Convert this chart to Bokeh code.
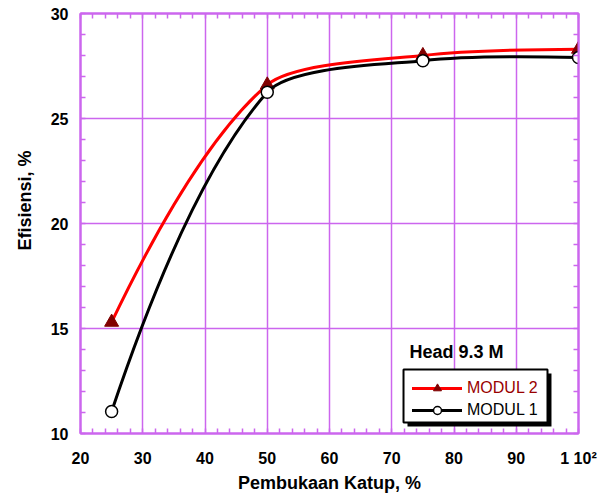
import numpy as np
from bokeh.plotting import figure
from bokeh.models import (Range1d, FixedTicker, LinearAxis, Legend, LegendItem,
                          BoxAnnotation, Label, ColumnDataSource, Title)
from bokeh.embed import file_html
from bokeh.resources import INLINE

# ---- data ----
katup = [25, 50, 75, 100]                 # Pembukaan Katup, %
modul2 = [15.3, 26.6, 28.0, 28.3]         # Efisiensi, % (MODUL 2)
modul1 = [11.05, 26.25, 27.75, 27.9]      # Efisiensi, % (MODUL 1)
x_ticks = [20, 30, 40, 50, 60, 70, 80, 90, 100]
x_minor = list(range(20, 101, 2))
y_ticks = [10, 15, 20, 25, 30]
y_minor = list(range(10, 31))
x_overrides = {100: "1 10\u00b2"}
names = ["MODUL 2", "MODUL 1"]

X0, X1, Y0, Y1 = 20, 100, 10, 30
FW, FH = 498, 420
PURPLE = "#CC66EE"
FONT = "Liberation Sans"


def smooth(xs, ys, k=0.22):
    """Bezier segments of a smoothed line (spreadsheet-style smoothing)."""
    xs = np.asarray(xs, float)
    ys = np.asarray(ys, float)
    sx, sy = FW / (X1 - X0), FH / (Y1 - Y0)
    P = np.column_stack([xs * sx, ys * sy])
    n = len(P)
    seg = np.hypot(*np.diff(P, axis=0).T)
    c0 = np.zeros((n - 1, 2))
    c1 = np.zeros((n - 1, 2))
    for i in range(1, n - 1):
        d = P[i + 1] - P[i - 1]
        u = d / np.hypot(*d)
        c1[i - 1] = P[i] - u * k * seg[i - 1]
        c0[i] = P[i] + u * k * seg[i]
    c0[0] = c1[0] - (P[1] - P[0]) / 3
    c1[-1] = c0[-1] + (P[-1] - P[-2]) / 3
    c0 /= [sx, sy]
    c1 /= [sx, sy]
    return ColumnDataSource(dict(x0=xs[:-1], y0=ys[:-1], x1=xs[1:], y1=ys[1:],
                                 cx0=c0[:, 0], cy0=c0[:, 1], cx1=c1[:, 0], cy1=c1[:, 1]))


p = figure(x_range=Range1d(X0, X1), y_range=Range1d(Y0, Y1),
           frame_width=FW, frame_height=FH,
           min_border_left=80, min_border_right=20, min_border_top=13, min_border_bottom=60,
           output_backend="svg", toolbar_location=None, tools="", title=None)
p.background_fill_color = "white"
p.border_fill_color = "white"
p.outline_line_color = PURPLE
p.outline_line_width = 2

# grids
p.xgrid.ticker = FixedTicker(ticks=x_ticks)
p.ygrid.ticker = FixedTicker(ticks=y_ticks)
for g in (p.xgrid, p.ygrid):
    g.grid_line_color = PURPLE
    g.grid_line_width = 1.5


def style_axis(ax, ticks, minor):
    ax.ticker = FixedTicker(ticks=ticks, minor_ticks=minor)
    ax.axis_line_color = PURPLE
    ax.axis_line_width = 2
    ax.major_tick_in = 0
    ax.major_tick_out = 0
    ax.minor_tick_in = 5
    ax.minor_tick_out = 0
    ax.minor_tick_line_color = PURPLE
    ax.minor_tick_line_width = 1.5
    ax.major_label_text_font = FONT
    ax.major_label_text_font_style = "bold"
    ax.major_label_text_font_size = "16px"
    ax.major_label_text_color = "black"
    ax.axis_label_text_font = FONT
    ax.axis_label_text_font_style = "bold"
    ax.axis_label_text_font_size = "18px"
    ax.axis_label_text_color = "black"


xa = p.xaxis[0]
ya = p.yaxis[0]
style_axis(xa, x_ticks, x_minor)
style_axis(ya, y_ticks, y_minor)
xa.major_label_overrides = x_overrides
xa.major_label_standoff = 16
xa.axis_label = "Pembukaan Katup, %"
xa.axis_label_standoff = 3
ya.major_label_standoff = 12

# mirrored minor ticks on top and right (no labels)
top = LinearAxis()
right = LinearAxis()
style_axis(top, [], x_minor)
style_axis(right, [], y_minor)
p.add_layout(top, "above")
p.add_layout(right, "right")

# y title placed like the reference (slightly above centre)
p.add_layout(Title(text="Efisiensi, %", align="left", offset=183,
                   vertical_align="middle", standoff=24, text_font=FONT,
                   text_font_style="bold", text_font_size="18px",
                   text_color="black"), "left")

# series
r2 = p.bezier(x0="x0", y0="y0", x1="x1", y1="y1", cx0="cx0", cy0="cy0",
              cx1="cx1", cy1="cy1", source=smooth(katup, modul2),
              line_color="#FF0000", line_width=3, line_cap="round")
m2 = p.scatter(katup, modul2, marker="triangle", size=14,
               fill_color="#800000", line_color="#800000")
r1 = p.bezier(x0="x0", y0="y0", x1="x1", y1="y1", cx0="cx0", cy0="cy0",
              cx1="cx1", cy1="cy1", source=smooth(katup, modul1),
              line_color="black", line_width=3, line_cap="round")
m1 = p.scatter(katup, modul1, marker="circle", size=12,
               fill_color="white", line_color="black", line_width=1.5)

# legend frame with shadow
p.add_layout(BoxAnnotation(left=72.53, right=95.66, top=12.86, bottom=10.33,
                           fill_color="black", fill_alpha=1, line_alpha=0))
p.add_layout(BoxAnnotation(left=71.89, right=95.02, top=13.05, bottom=10.52,
                           fill_color="white", fill_alpha=1,
                           line_color="black", line_width=2, line_alpha=1))


def make_legend(label, renderers, loc, color):
    return Legend(items=[LegendItem(label=label, renderers=renderers)],
                  location=loc, orientation="vertical", padding=0, margin=0,
                  spacing=0, glyph_width=50, glyph_height=20, label_height=20,
                  label_standoff=5, label_text_font=FONT, label_text_font_size="16px",
                  label_text_color=color, border_line_alpha=0,
                  background_fill_alpha=0)


p.add_layout(make_legend(names[0], [r2, m2], (332, 35), "#990000"))
p.add_layout(make_legend(names[1], [r1, m1], (332, 13), "black"))

p.add_layout(Label(x=72.85, y=13.9, text="Head 9.3 M", text_font=FONT,
                   text_font_style="bold", text_font_size="18px",
                   text_align="left", text_baseline="middle", text_color="black"))

open("out.html", "w").write(file_html(p, INLINE))
